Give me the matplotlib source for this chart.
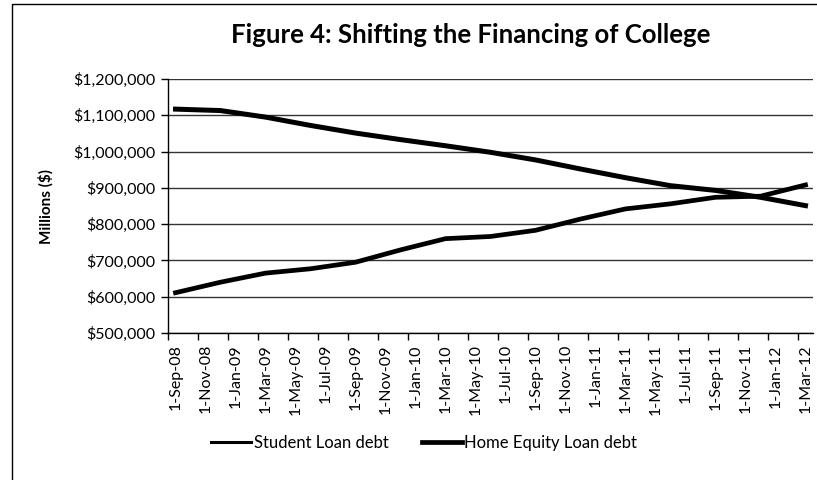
#!/usr/bin/env python3
"""Student loan vs home equity loan balances, quarterly, Sep 2008 - Mar 2012."""

import matplotlib
matplotlib.use("Agg")
import matplotlib.pyplot as plt
from matplotlib.lines import Line2D
from matplotlib.patches import Rectangle
from matplotlib.ticker import FuncFormatter

# quarterly observations, month offset from 1-Sep-08
months = [0, 3, 6, 9, 12, 15, 18, 21, 24, 27, 30, 33, 36, 39, 42]
student_loan = [611000, 640000, 665000, 677000, 695000, 729000, 760000, 766000,
                783000, 814000, 842000, 856000, 874000, 877000, 908000]
home_equity = [1117000, 1113000, 1095000, 1072000, 1051000, 1033000, 1016000, 998000,
               977000, 952000, 928000, 906000, 893000, 874000, 851000]

tick_labels = ["1-Sep-08", "1-Nov-08", "1-Jan-09", "1-Mar-09", "1-May-09", "1-Jul-09",
               "1-Sep-09", "1-Nov-09", "1-Jan-10", "1-Mar-10", "1-May-10", "1-Jul-10",
               "1-Sep-10", "1-Nov-10", "1-Jan-11", "1-Mar-11", "1-May-11", "1-Jul-11",
               "1-Sep-11", "1-Nov-11", "1-Jan-12", "1-Mar-12"]

plt.rcParams["font.family"] = ["Lato", "DejaVu Sans"]

W, H = 817, 480
fig = plt.figure(figsize=(W / 100, H / 100), dpi=100)
ax = fig.add_axes([168 / W, 1 - 333 / H, (813 - 168) / W, (333 - 79) / H])

ax.plot(months, student_loan, color="black", lw=3.4, solid_joinstyle="round")
ax.plot(months, home_equity, color="black", lw=3.6, solid_joinstyle="round")

ax.set_ylim(500000, 1200000)
ax.set_yticks(range(500000, 1200001, 100000))
ax.yaxis.set_major_formatter(FuncFormatter(lambda v, _: f"${v:,.0f}"))
ax.yaxis.grid(True, color="#333333", lw=1.0)
ax.set_axisbelow(True)

# one category per month, tick marks on category boundaries every 2 months
ax.set_xlim(-0.5, 42.5)
ax.set_xticks([m - 0.5 for m in range(0, 43, 2)])
ax.set_xticklabels([])
ax.set_xticks(list(range(0, 43, 2)), minor=True)
ax.set_xticklabels(tick_labels, minor=True, rotation=90, fontsize=11.5)
ax.tick_params(axis="x", which="minor", length=0, pad=8)
ax.tick_params(axis="x", which="major", length=5, width=1, color="black")
ax.tick_params(axis="y", length=5, width=1, labelsize=11.5, pad=4)

for side in ("top", "right"):
    ax.spines[side].set_visible(False)
for side in ("left", "bottom"):
    ax.spines[side].set_color("black")
    ax.spines[side].set_linewidth(1.0)

ax.set_ylabel("Millions ($)", fontsize=11, fontweight="bold", labelpad=14)

fig.text(471 / W, 1 - 35 / H, "Figure 4: Shifting the Financing of College",
         ha="center", va="center", fontsize=18.5, fontweight="bold")

handles = [Line2D([], [], color="black", lw=2.2),
           Line2D([], [], color="black", lw=3.4)]
fig.legend(handles, ["Student Loan debt", "Home Equity Loan debt"],
           loc="center", bbox_to_anchor=(424 / W, 1 - 443 / H), ncol=2,
           frameon=False, fontsize=12, handlelength=2.4, handletextpad=0.15,
           columnspacing=2.0)

# outer chart frame
fig.patches.append(Rectangle((12 / W, -0.05), 1.1, 1 - 4 / H + 0.05,
                             transform=fig.transFigure, fill=False,
                             edgecolor="black", lw=1.0))

fig.savefig("out.png", dpi=100)
